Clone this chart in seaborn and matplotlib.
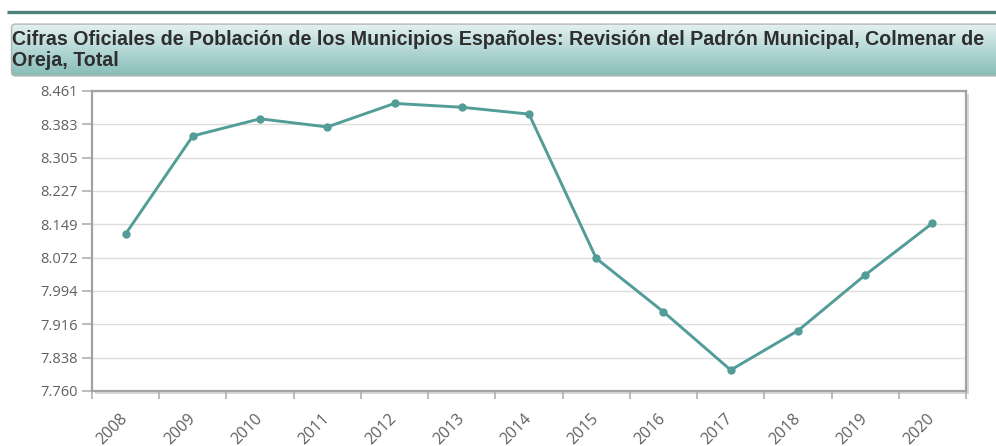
import numpy as np
import pandas as pd
import matplotlib
matplotlib.use("Agg")
import matplotlib.pyplot as plt
from matplotlib.patches import FancyBboxPatch, Rectangle
from matplotlib.lines import Line2D
from matplotlib.ticker import FixedLocator
from matplotlib.colors import LinearSegmentedColormap
import seaborn as sns

# Population of Colmenar de Oreja (municipal register revision)
years = ["2008", "2009", "2010", "2011", "2012", "2013", "2014",
         "2015", "2016", "2017", "2018", "2019", "2020"]
population = [8127, 8356, 8396, 8377, 8432, 8423, 8407,
              8070, 7945, 7809, 7901, 8031, 8152]
y_min, y_max = 7760, 8461
n_yticks = 10

title_line1 = "Cifras Oficiales de Población de los Municipios Españoles: Revisión del Padrón Municipal, Colmenar de"
title_line2 = "Oreja, Total"

df = pd.DataFrame({"year": years, "population": population})

sns.set_theme(style="white")
plt.rcParams["font.family"] = ["DejaVu Sans"]

W, H = 996, 446
fig = plt.figure(figsize=(W / 100, H / 100), dpi=100)

def fx(px):
    return px / W

def fy(py):
    return 1 - py / H

# dark rule above the header
fig.add_artist(Line2D([fx(7), fx(996)], [fy(12), fy(12)], color="#4b8279",
                      lw=2.4, solid_capstyle="butt"))

# header box with a vertical gradient
hx0, hy0, hx1, hy1 = 10, 23, 1003, 77
hax = fig.add_axes([fx(hx0), fy(hy1), fx(hx1 - hx0), (hy1 - hy0) / H])
hax.set_xlim(0, 1)
hax.set_ylim(0, 1)
hax.axis("off")
grad = np.linspace(0, 1, 256).reshape(-1, 1)
cmap = LinearSegmentedColormap.from_list("hdr", ["#86bcb7", "#b4d8d5", "#e8f3f2"])
box = FancyBboxPatch((0.0015, 0.02), 0.997, 0.96,
                     boxstyle="round,pad=0,rounding_size=0.004",
                     transform=hax.transAxes, facecolor="none",
                     edgecolor="#b5b5b5", lw=1.0, mutation_aspect=18)
img = hax.imshow(grad, cmap=cmap, aspect="auto", extent=[0, 1, 0, 1],
                 origin="lower", zorder=0)
hax.add_patch(box)
img.set_clip_path(box)

title_kw = dict(fontsize=14.15, fontweight="bold", color="#2e2e2e",
                family=["Liberation Sans", "DejaVu Sans"], va="baseline", ha="left")
fig.text(fx(12), fy(45), title_line1, **title_kw)
fig.text(fx(12), fy(66), title_line2, **title_kw)

# plot area
px0, py0, px1, py1 = 92, 91, 966, 391
# drop shadow behind the plot frame
fig.add_artist(Rectangle((fx(px0 + 3), fy(py1 + 3)), fx(px1 - px0), (py1 - py0) / H,
                         facecolor="#d9d9d9", edgecolor="none", zorder=0))
ax = fig.add_axes([fx(px0), fy(py1), fx(px1 - px0), (py1 - py0) / H])
ax.set_facecolor("white")

sns.lineplot(data=df, x="year", y="population", ax=ax, color="#529d97",
             lw=2.1, marker="o", markersize=6, markeredgewidth=0,
             zorder=3)

ax.set_xlim(-0.5, len(years) - 0.5)
ax.set_ylim(y_min, y_max)
yticks = np.linspace(y_min, y_max, n_yticks)
ax.set_yticks(yticks)
ax.set_yticklabels([f"{v:,.0f}".replace(",", ".") for v in yticks])
ax.yaxis.grid(True, color="#dddddd", lw=1.0)
ax.set_axisbelow(True)

ax.set_xticks(range(len(years)))
ax.set_xticklabels(years)
ax.xaxis.set_minor_locator(FixedLocator(np.arange(-0.5, len(years), 1.0)))
ax.tick_params(axis="x", which="major", length=0, pad=18, labelsize=11.5,
               labelcolor="#606060")
ax.tick_params(axis="x", which="minor", length=6, width=1.2, color="#b0b0b0",
               bottom=True)
ax.tick_params(axis="y", which="major", length=7, width=1.2, color="#b0b0b0",
               left=True, labelsize=10.5, labelcolor="#606060", pad=3)
for lab in ax.get_xticklabels():
    lab.set_rotation(45)
    lab.set_ha("right")
    lab.set_va("center")
    lab.set_rotation_mode("anchor")
    lab.set_fontfamily(["Open Sans", "DejaVu Sans"])
for lab in ax.get_yticklabels():
    lab.set_fontfamily(["Open Sans", "DejaVu Sans"])

ax.set_xlabel("")
ax.set_ylabel("")
for side in ["left", "bottom", "top", "right"]:
    ax.spines[side].set_visible(True)
    ax.spines[side].set_color("#a3a3a3")
    ax.spines[side].set_linewidth(1.6)

fig.savefig("out.png", dpi=100)
